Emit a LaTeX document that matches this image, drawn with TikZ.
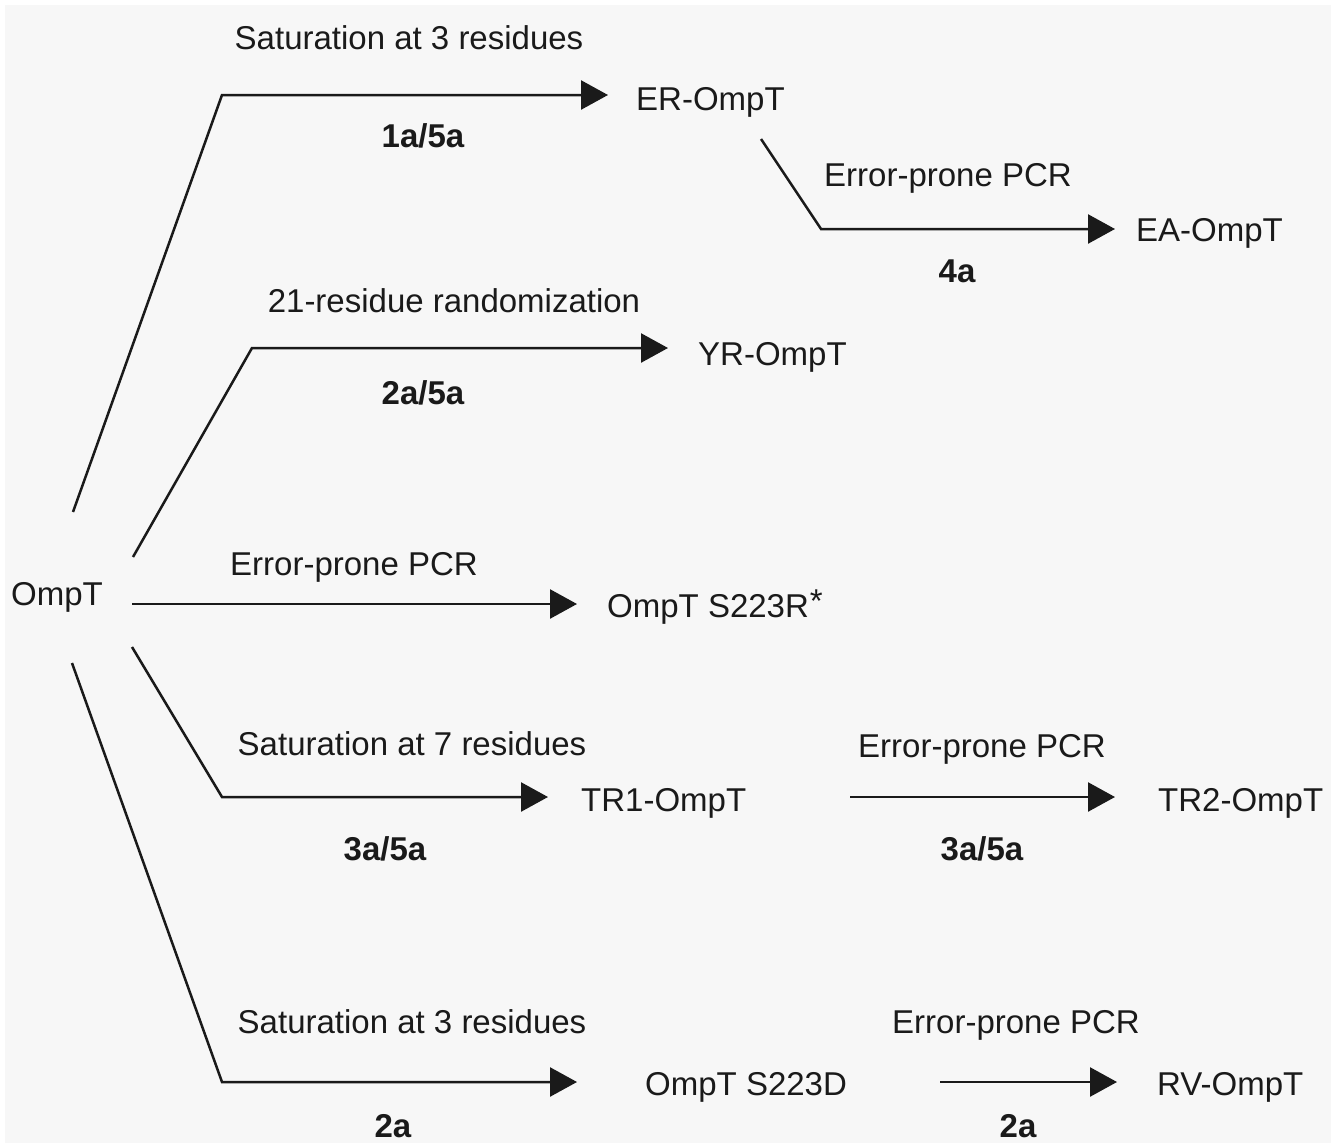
\documentclass[tikz,border=0pt]{standalone}
\usepackage{fontspec}
\setmainfont{Liberation Sans}
\usetikzlibrary{arrows.meta}
\definecolor{panel}{HTML}{F7F7F7}
\definecolor{ink}{HTML}{1A1A1A}
\newcommand{\figfont}{\fontsize{33}{40}\selectfont}
\tikzset{
  lab/.style={anchor=base, inner sep=0pt, font=\figfont},
  num/.style={anchor=base, inner sep=0pt, font=\figfont\bfseries},
  prod/.style={anchor=base west, inner sep=0pt, font=\figfont},
  flow/.style={line width=2.5pt, -{Triangle[length=27pt,width=29pt]}}
}
\begin{document}
\begin{tikzpicture}[x=1pt,y=-1pt,color=ink]
      \useasboundingbox (0,0) rectangle (1342,1146);
      \fill[panel] (5,5) rectangle (1331,1143);
      \draw
        (57,605) node[lab] (ompt){OmpT}
        (636,110) node[prod] (er){ER-OmpT}
        (1136,241) node[prod] (ea){EA-OmpT}
        (698,365) node[prod] (yr){YR-OmpT}
        (607,617) node[prod] (sr){OmpT S223R\kern1pt\raisebox{5pt}{*}}
        (581,811) node[prod] (tr1){TR1-OmpT}
        (1158,811) node[prod] (tr2){TR2-OmpT}
        (645,1095) node[prod] (sd){OmpT S223D}
        (1157,1095) node[prod] (rv){RV-OmpT};
      \draw
        (409,49) node[lab] (sat1){Saturation at 3 residues}
        (948,186) node[lab] (epcr1){Error-prone PCR}
        (454,312) node[lab] (rand){21-residue randomization}
        (354,575) node[lab] (epcr2){Error-prone PCR}
        (412,755) node[lab] (sat7){Saturation at 7 residues}
        (982,757) node[lab] (epcr3){Error-prone PCR}
        (412,1033) node[lab] (sat3){Saturation at 3 residues}
        (1016,1033) node[lab] (epcr4){Error-prone PCR};
      \draw
        (423,147) node[num] (n1){1a/5a}
        (957,282) node[num] (n2){4a}
        (423,404) node[num] (n3){2a/5a}
        (385,860) node[num] (n4){3a/5a}
        (982,860) node[num] (n5){3a/5a}
        (393,1137) node[num] (n6){2a}
        (1018,1137) node[num] (n7){2a};
      % bends and free ends of the connectors
      \coordinate (o1) at (73,512);
      \coordinate (o2) at (133,557);
      \coordinate (o3) at (132,604);
      \coordinate (o4) at (132,647);
      \coordinate (o5) at (72,663);
      \coordinate (k1) at (222,95);
      \coordinate (k2) at (252,348);
      \coordinate (k4) at (222,797);
      \coordinate (k5) at (222,1082);
      \coordinate (e1) at (761,139);
      \coordinate (k6) at (821,229);
      \coordinate (t1) at (850,797);
      \coordinate (d1) at (940,1082);
      \begin{scope}[flow]
        \draw[shorten >=28pt] (o1) -- (k1) -- (k1 -| er.west);
        \draw[shorten >=21pt] (e1) -- (k6) -- (k6 -| ea.west);
        \draw[shorten >=30pt] (o2) -- (k2) -- (k2 -| yr.west);
        \draw[shorten >=30pt] (o3) -- (o3 -| sr.west);
        \draw[shorten >=33pt] (o4) -- (k4) -- (k4 -| tr1.west);
        \draw[shorten >=43pt] (t1) -- (t1 -| tr2.west);
        \draw[shorten >=68pt] (o5) -- (k5) -- (k5 -| sd.west);
        \draw[shorten >=40pt] (d1) -- (d1 -| rv.west);
      \end{scope}
    \end{tikzpicture}
\end{document}
